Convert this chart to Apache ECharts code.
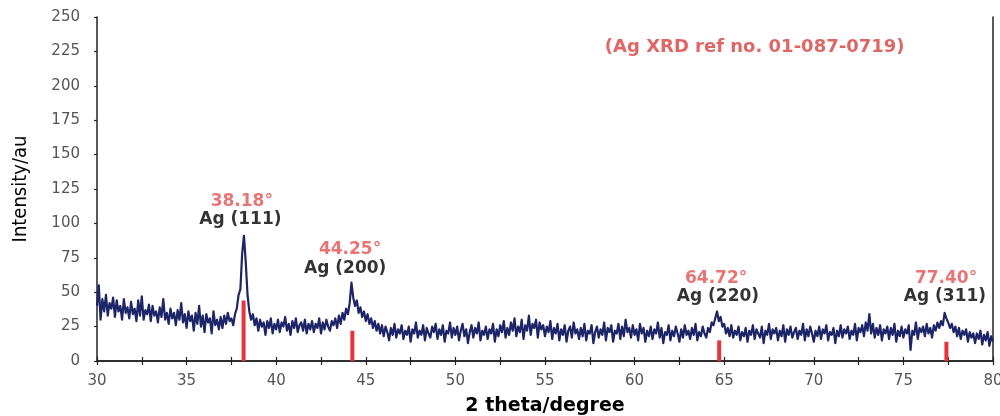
<!DOCTYPE html>
<html>
<head>
<meta charset="utf-8">
<script src="https://cdn.jsdelivr.net/npm/echarts@6/dist/echarts.min.js"></script>
<style>html,body{margin:0;padding:0;background:#fff}#c{width:1000px;height:416px}</style>
</head>
<body>
<div id="c"></div>
<script>
// 2θ from 30° to 80° in 0.1° steps
const thetaStart = 30;
const thetaStep = 0.1;
const intensity = [
  40, 55, 30, 45, 36, 48, 33, 42, 38, 46,
  32, 44, 36, 40, 30, 45, 35, 39, 31, 43,
  34, 38, 29, 44, 33, 47, 30, 37, 34, 41,
  29, 40, 33, 36, 28, 39, 32, 45, 30, 35,
  27, 38, 31, 35, 26, 37, 30, 42, 28, 34,
  24, 36, 29, 33, 22, 35, 27, 40, 25, 33,
  21, 34, 28, 31, 20, 36, 26, 30, 23, 32,
  24, 33, 27, 35, 29, 31, 26, 34, 38, 48,
  52, 78, 91, 72, 48, 36, 30, 34, 26, 31,
  22, 30, 25, 28, 19, 29, 24, 31, 20, 27,
  23, 30, 21, 28, 25, 32, 22, 27, 19, 29,
  24, 31, 21, 26, 28, 22, 30, 20, 27, 23,
  29, 21, 27, 24, 31, 20, 28, 23, 30, 25,
  22, 29, 26, 31, 24, 33, 27, 35, 30, 38,
  34, 42, 57, 46, 40, 44, 35, 39, 32, 36,
  29, 34, 27, 31, 24, 29, 22, 27, 20, 26,
  18, 25, 21, 15, 24, 19, 27, 17, 23, 20,
  26, 16, 22, 19, 25, 14, 23, 20, 28, 17,
  22, 19, 26, 15, 24, 20, 17, 25, 21, 27,
  16, 23, 19, 26, 14, 22, 20, 28, 17, 24,
  19, 25, 15, 22, 27, 18, 23, 13, 21, 26,
  17, 24, 20, 28, 15, 22, 19, 25, 16, 23,
  20, 27, 14, 23, 18, 26, 21, 29, 17, 24,
  19, 28, 22, 31, 18, 25, 21, 30, 16, 26,
  22, 33, 19, 27, 24, 30, 17, 28, 23, 26,
  18, 25, 21, 29, 16, 24, 20, 27, 15, 23,
  19, 26, 14, 22, 25, 17, 28, 20, 23, 16,
  24, 18, 27, 15, 22, 20, 26, 13, 21, 25,
  17, 23, 19, 28, 15, 24, 21, 26, 14, 22,
  20, 27, 16, 25, 18, 30, 21, 24, 17, 26,
  19, 23, 15, 27, 20, 24, 14, 22, 18, 25,
  16, 23, 20, 28, 17, 24, 13, 21, 19, 26,
  15, 22, 18, 25, 20, 14, 23, 17, 26, 19,
  22, 16, 24, 19, 27, 15, 21, 18, 25, 20,
  17, 24, 21, 28, 26, 31, 36, 29, 32, 25,
  27, 20, 24, 18, 26, 17, 22, 19, 25, 15,
  21, 18, 24, 14, 22, 19, 26, 16, 23, 20,
  17, 25, 13, 22, 19, 27, 16, 23, 20, 24,
  15, 22, 18, 26, 14, 23, 19, 25, 17, 21,
  24, 16, 22, 19, 27, 15, 23, 18, 25, 20,
  14, 22, 18, 25, 16, 23, 20, 26, 15, 21,
  19, 24, 13, 22, 18, 26, 17, 23, 20, 25,
  16, 22, 19, 27, 15, 24, 21, 26, 18, 28,
  22, 34, 20, 27, 17, 24, 19, 26, 15, 23,
  20, 25, 16, 24, 19, 27, 14, 22, 18, 25,
  17, 23, 20, 26, 8, 22, 19, 28, 16, 24,
  21, 25, 18, 27, 20, 24, 17, 26, 22, 28,
  24, 29, 26, 35, 31, 28, 24, 27, 21, 25,
  18, 24, 16, 22, 19, 23, 14, 21, 17, 20,
  13, 20, 16, 22, 12, 19, 15, 21, 11, 18,
  14
];

// Reference (Ag XRD ref no. 01-087-0719) peaks
const peakTheta = [38.18, 44.25, 64.72, 77.40];
const refBarHeight = [44, 22, 15, 14];
const peakAngleLabels = ['38.18°', '44.25°', '64.72°', '77.40°'];
const peakPlaneLabels = ['Ag (111)', 'Ag (200)', 'Ag (220)', 'Ag (311)'];
const refNote = '(Ag XRD ref no. 01-087-0719)';

// Axis ticks
const xMin = 30, xMax = 80, xTickStep = 2.5, xLabelStep = 5;
const yMin = 0, yMax = 250, yTickStep = 25;

const lineData = intensity.map((v, i) => [+(thetaStart + i * thetaStep).toFixed(2), v]);
const barData = peakTheta.map((t, i) => [t, refBarHeight[i]]);

// label anchor layout (data coordinates for annotation placement)
const angleAnchor = [[38.08, 116], [44.12, 81], [64.55, 60], [77.38, 60]];
const planeAnchor = [[38.0, 103], [43.85, 67.5], [64.65, 46.5], [77.32, 46.5]];
const noteAnchor = [66.7, 228];

const annFont = "'DejaVu Sans', sans-serif";
const annotationData = [];
peakTheta.forEach((t, i) => {
  annotationData.push({
    value: angleAnchor[i],
    label: { formatter: peakAngleLabels[i], color: '#e25252' }
  });
  annotationData.push({
    value: planeAnchor[i],
    label: { formatter: peakPlaneLabels[i], color: '#000' }
  });
});
annotationData.push({
  value: noteAnchor,
  label: { formatter: refNote, color: '#d83f3f', fontSize: 18 }
});

const chart = echarts.init(document.getElementById('c'), null, { renderer: 'canvas' });
chart.setOption({
  animation: false,
  backgroundColor: '#fff',
  grid: { left: 97, right: 7, top: 17, bottom: 55, show: false, containLabel: false, outerBoundsMode: 'none' },
  xAxis: [{
    type: 'value', min: xMin, max: xMax, interval: xTickStep,
    name: '2 theta/degree', nameLocation: 'middle', nameGap: 36,
    nameTextStyle: { fontFamily: annFont, fontWeight: 'bold', fontSize: 19, color: '#000' },
    axisLine: { show: true, lineStyle: { color: '#222', width: 1.5 } },
    axisTick: { show: true, inside: true, length: 4, lineStyle: { color: '#222', width: 1.2 } },
    axisLabel: {
      color: '#555', fontSize: 15, fontFamily: annFont, margin: 13,
      formatter: v => (Math.abs(v % xLabelStep) < 1e-6 ? String(v) : '')
    },
    splitLine: { show: false }
  }, {
    type: 'value', min: xMin, max: xMax, interval: xTickStep, position: 'top',
    axisLine: { show: true, lineStyle: { color: '#222', width: 1.5 } },
    axisTick: { show: true, inside: true, length: 4, lineStyle: { color: '#222', width: 1.2 } },
    axisLabel: { show: false },
    splitLine: { show: false }
  }],
  yAxis: [{
    type: 'value', min: yMin, max: yMax, interval: yTickStep,
    name: 'Intensity/au', nameLocation: 'middle', nameGap: 66,
    nameTextStyle: { fontFamily: "'Liberation Sans Narrow', 'DejaVu Sans Condensed', 'Liberation Sans', sans-serif", fontSize: 20, color: '#000' },
    axisLine: { show: true, lineStyle: { color: '#222', width: 1.5 } },
    axisTick: { show: true, inside: false, length: 3, lineStyle: { color: '#222', width: 1.2 } },
    axisLabel: { color: '#555', fontSize: 15, fontFamily: annFont, margin: 17 },
    splitLine: { show: false }
  }, {
    type: 'value', min: yMin, max: yMax, interval: yTickStep, position: 'right',
    axisLine: { show: true, lineStyle: { color: '#222', width: 1.5 } },
    axisTick: { show: false }, axisLabel: { show: false }, splitLine: { show: false }
  }],
  series: [{
    type: 'line',
    data: lineData,
    xAxisIndex: 0, yAxisIndex: 0,
    showSymbol: false, symbol: 'none',
    lineStyle: { color: '#1d2468', width: 2.2, join: 'round' },
    z: 2
  }, {
    type: 'bar',
    data: barData,
    xAxisIndex: 0, yAxisIndex: 0,
    barWidth: 4,
    itemStyle: { color: '#e8333a' },
    z: 3
  }, {
    type: 'scatter',
    data: annotationData,
    xAxisIndex: 0, yAxisIndex: 0,
    symbolSize: 0,
    silent: true,
    label: {
      show: true, position: 'inside',
      fontFamily: annFont, fontWeight: 'bold', fontSize: 17
    },
    z: 4
  }]
});
</script>
</body>
</html>
